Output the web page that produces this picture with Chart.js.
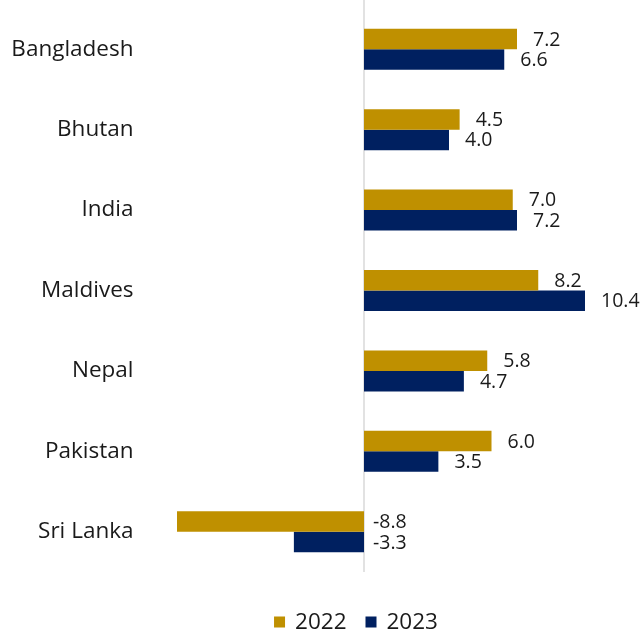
<!DOCTYPE html>
<html>
<head>
<meta charset="utf-8">
<script src="https://cdn.jsdelivr.net/npm/chart.js@4"></script>
<style>
  html, body { margin: 0; padding: 0; background: #fff; }
  #wrap { width: 642px; height: 635px; }
</style>
</head>
<body>
<div id="wrap"><canvas id="gdpChart"></canvas></div>
<script>
// dados
const paises = ['Bangladesh', 'Bhutan', 'India', 'Maldives', 'Nepal', 'Pakistan', 'Sri Lanka'];
const valores2022 = [7.2, 4.5, 7.0, 8.2, 5.8, 6.0, -8.8];
const valores2023 = [6.6, 4.0, 7.2, 10.4, 4.7, 3.5, -3.3];
const anos = ['2022', '2023'];

const corOuro = '#BF9000';
const corAzul = '#002060';
const corTexto = '#1a1a1a';
const fonte = "'Open Sans', sans-serif";

// linha do zero (vai até o topo do canvas)
const linhaZero = {
  id: 'linhaZero',
  beforeDatasetsDraw(chart) {
    const ctx = chart.ctx;
    const x = chart.scales.x.getPixelForValue(0);
    ctx.save();
    ctx.strokeStyle = '#d9d9d9';
    ctx.lineWidth = 1.5;
    ctx.beginPath();
    ctx.moveTo(x, 0);
    ctx.lineTo(x, chart.chartArea.bottom);
    ctx.stroke();
    ctx.restore();
  }
};

// rótulos de valor ao lado das barras
const rotulos = {
  id: 'rotulos',
  afterDatasetsDraw(chart) {
    const ctx = chart.ctx;
    ctx.save();
    ctx.font = '19.5px ' + fonte;
    ctx.fillStyle = corTexto;
    ctx.textAlign = 'left';
    ctx.textBaseline = 'middle';
    chart.data.datasets.forEach((ds, i) => {
      const meta = chart.getDatasetMeta(i);
      meta.data.forEach((bar, j) => {
        const v = ds.data[j];
        const x = v >= 0 ? bar.x + 16 : bar.base + 9;
        ctx.fillText(v.toFixed(1), x, bar.y + 1);
      });
    });
    ctx.restore();
  }
};

// legenda desenhada à mão (centrada um pouco à direita, como no original)
const legenda = {
  id: 'legenda',
  afterDraw(chart) {
    const ctx = chart.ctx;
    const caixa = 11, espaco = 10, entre = 19;
    const centroX = 356, centroY = 622;
    ctx.save();
    ctx.font = '22.5px ' + fonte;
    ctx.textBaseline = 'middle';
    ctx.textAlign = 'left';
    const itens = chart.data.datasets.map(ds => ({
      texto: ds.label,
      cor: ds.backgroundColor,
      w: ctx.measureText(ds.label).width
    }));
    let total = 0;
    itens.forEach((it, i) => {
      total += caixa + espaco + it.w + (i < itens.length - 1 ? entre : 0);
    });
    let x = centroX - total / 2;
    itens.forEach(it => {
      ctx.fillStyle = it.cor;
      ctx.fillRect(x, centroY - caixa / 2, caixa, caixa);
      x += caixa + espaco;
      ctx.fillStyle = corTexto;
      ctx.fillText(it.texto, x, centroY + 1);
      x += it.w + entre;
    });
    ctx.restore();
  }
};

const ctx = document.getElementById('gdpChart').getContext('2d');
new Chart(ctx, {
  type: 'bar',
  data: {
    labels: paises,
    datasets: [
      { label: anos[0], data: valores2022, backgroundColor: corOuro },
      { label: anos[1], data: valores2023, backgroundColor: corAzul }
    ]
  },
  options: {
    indexAxis: 'y',
    responsive: true,
    maintainAspectRatio: false,
    animation: false,
    categoryPercentage: 0.51,
    barPercentage: 1,
    layout: { padding: { top: 9, left: 0, right: 23, bottom: 63 } },
    scales: {
      x: {
        min: -10,
        max: 12,
        display: false
      },
      y: {
        grid: { display: false, drawTicks: true, tickLength: 18 },
        border: { display: false },
        ticks: {
          padding: 0,
          color: corTexto,
          font: { family: fonte, size: 22.5, lineHeight: 0.7 }
        },
        afterFit(scale) { scale.width = 151.5; }
      }
    },
    plugins: {
      legend: { display: false },
      tooltip: { enabled: false }
    }
  },
  plugins: [linhaZero, rotulos, legenda]
});
</script>
</body>
</html>
